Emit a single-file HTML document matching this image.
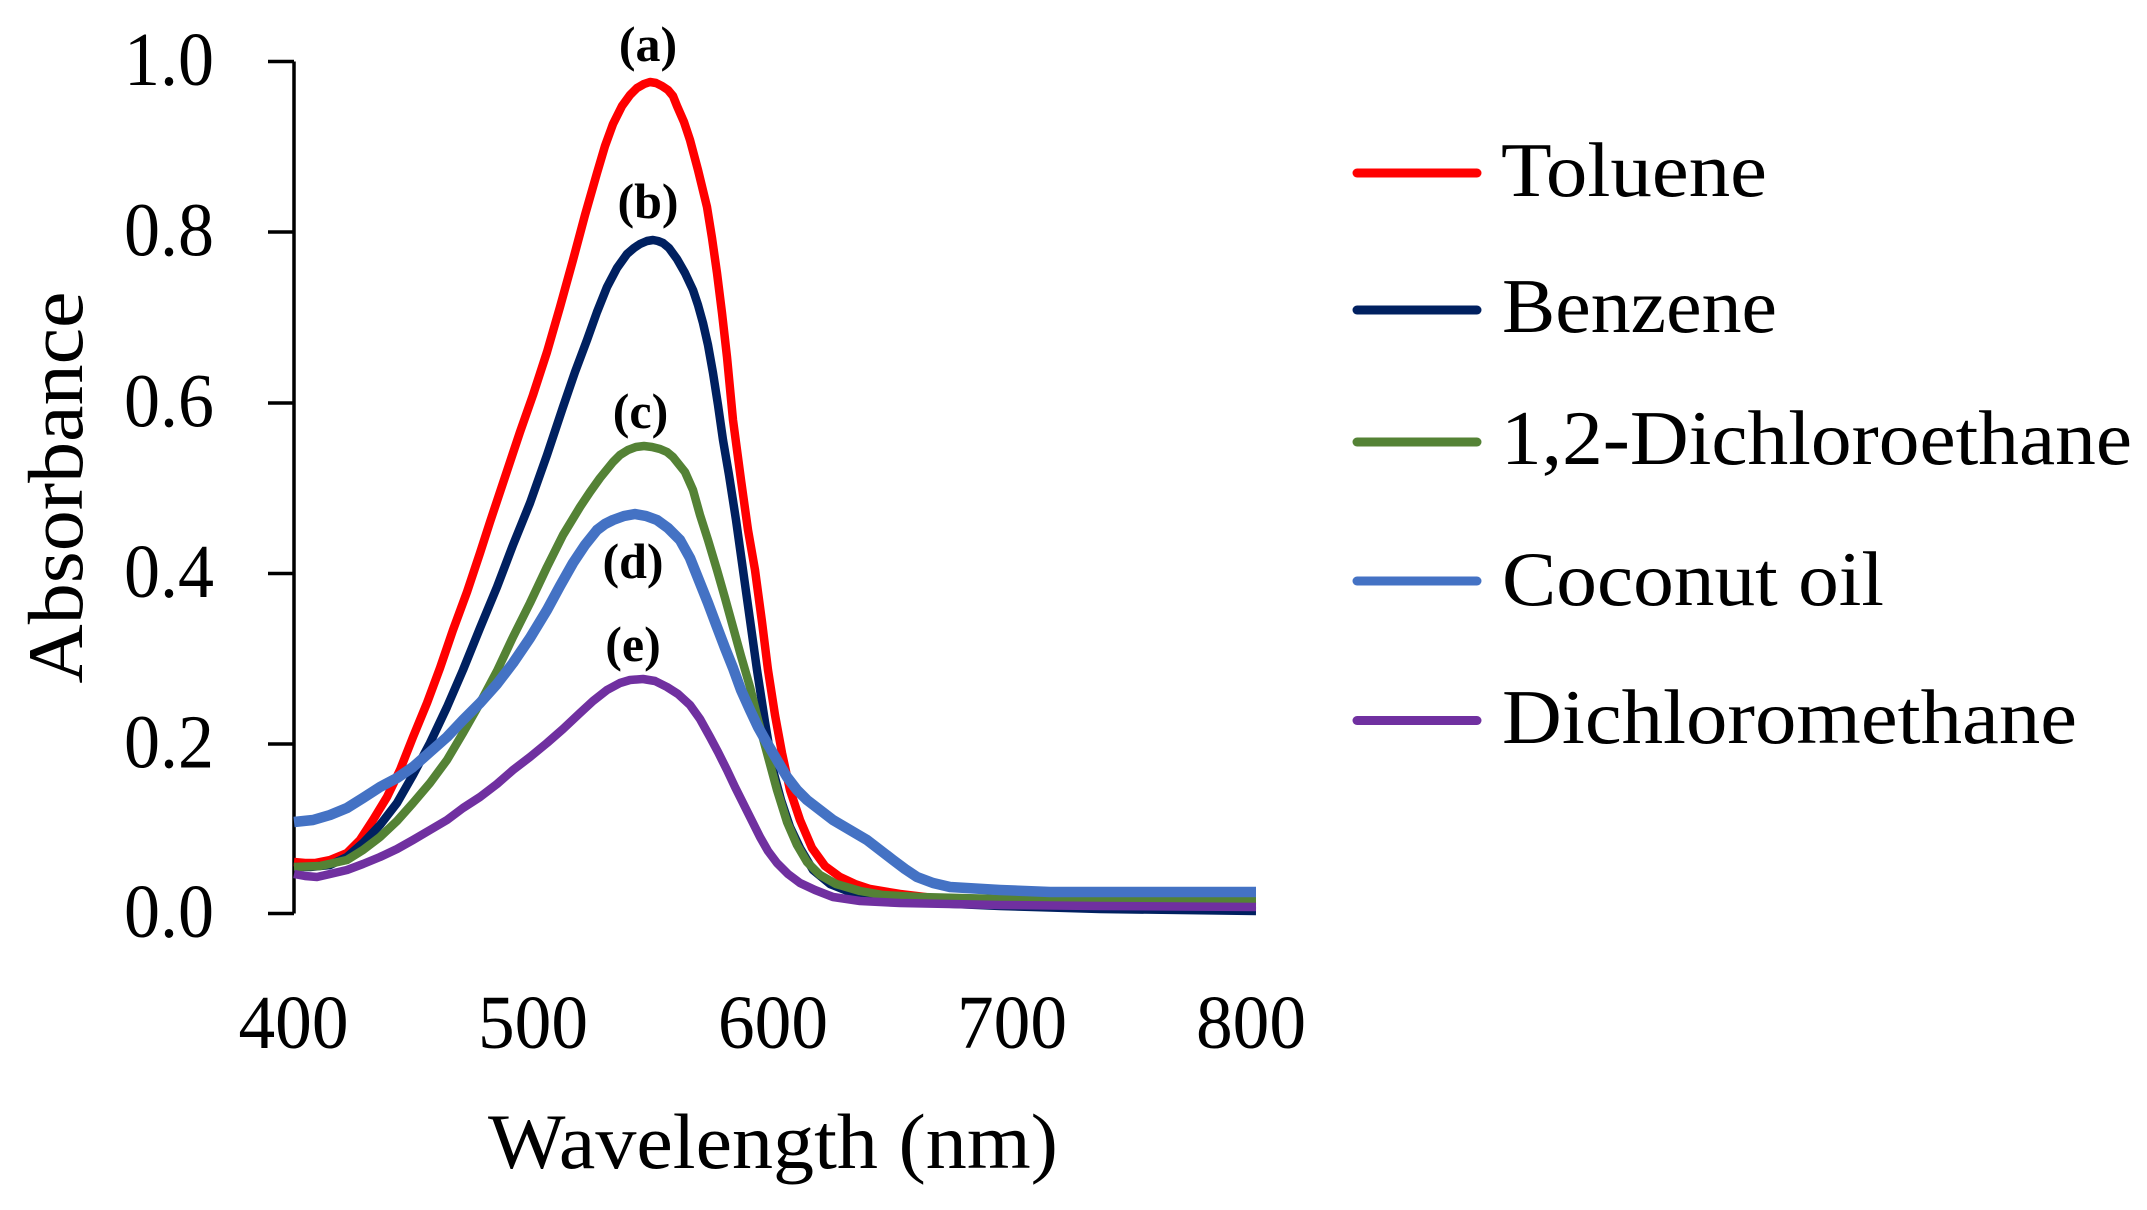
<!DOCTYPE html>
<html>
<head>
<meta charset="utf-8">
<style>
html,body{margin:0;padding:0;background:#fff;}
svg{display:block;}
text{font-family:"Liberation Serif","DejaVu Serif",serif;fill:#000;}
</style>
</head>
<body>
<svg width="2147" height="1210" viewBox="0 0 2147 1210" xmlns="http://www.w3.org/2000/svg">
<rect width="2147" height="1210" fill="#fff"/>

<!-- Y axis -->
<line x1="294" y1="61.5" x2="294" y2="913.5" stroke="#000" stroke-width="3.5"/>
<g stroke="#000" stroke-width="3.5">
<line x1="268" y1="61.5" x2="294" y2="61.5"/>
<line x1="268" y1="232" x2="294" y2="232"/>
<line x1="268" y1="403" x2="294" y2="403"/>
<line x1="268" y1="573.5" x2="294" y2="573.5"/>
<line x1="268" y1="744" x2="294" y2="744"/>
<line x1="268" y1="913.5" x2="294" y2="913.5"/>
</g>
<g font-size="76" text-anchor="end">
<text x="214" y="85" textLength="90" lengthAdjust="spacingAndGlyphs">1.0</text>
<text x="214" y="255.5" textLength="90" lengthAdjust="spacingAndGlyphs">0.8</text>
<text x="214" y="426.5" textLength="90" lengthAdjust="spacingAndGlyphs">0.6</text>
<text x="214" y="597" textLength="90" lengthAdjust="spacingAndGlyphs">0.4</text>
<text x="214" y="767.5" textLength="90" lengthAdjust="spacingAndGlyphs">0.2</text>
<text x="214" y="937" textLength="90" lengthAdjust="spacingAndGlyphs">0.0</text>
</g>

<!-- X tick labels -->
<g font-size="76" text-anchor="middle">
<text x="293.5" y="1048" textLength="110" lengthAdjust="spacingAndGlyphs">400</text>
<text x="533" y="1048" textLength="110" lengthAdjust="spacingAndGlyphs">500</text>
<text x="773" y="1048" textLength="110" lengthAdjust="spacingAndGlyphs">600</text>
<text x="1012" y="1048" textLength="110" lengthAdjust="spacingAndGlyphs">700</text>
<text x="1251" y="1048" textLength="110" lengthAdjust="spacingAndGlyphs">800</text>
</g>

<!-- Axis titles -->
<text x="488" y="1168" font-size="78" textLength="570" lengthAdjust="spacingAndGlyphs">Wavelength (nm)</text>
<text transform="translate(82,487.5) rotate(-90)" x="0" y="0" font-size="78" text-anchor="middle" textLength="392" lengthAdjust="spacingAndGlyphs">Absorbance</text>

<!-- Curves -->
<g fill="none" stroke-linejoin="round" stroke-linecap="butt">
<polyline stroke="#FF0000" stroke-width="8.5" points="294,862 305,863 315,863 330,860 347,853 360,840 373,820 387,797 400,770 413,737 427,703 440,668 453,630 467,592 480,553 490,522 500,492 510,462 520,432 533,395 547,352 560,307 573,260 585,215 597,173 605,146 613,124 622,106 630,95 637,88 644,84 650,82 656,83 662,86 668,90 673,96 677,106 684,122 690,140 698,170 707,207 712,238 717,273 722,313 727,357 733,420 741,480 748,530 755,570 762,622 768,670 775,715 782,753 790,790 800,820 812,848 825,866 840,877 855,884 870,889 900,894 933,898 1000,902 1100,905 1256,906"/>
<polyline stroke="#002060" stroke-width="8.5" points="294,867 310,867 330,865 347,857 363,843 380,825 397,803 413,775 430,743 447,707 463,670 480,628 497,587 513,545 530,503 547,455 563,407 575,372 587,340 597,312 607,287 617,268 627,254 634,248 640,244 647,241 653,240 658,241 663,243 669,248 677,259 685,273 693,290 698,305 703,323 708,345 713,373 718,405 723,440 729,475 736,520 743,570 750,620 757,670 765,722 773,770 781,800 790,827 800,848 813,870 830,884 850,892 890,899 933,903 1000,906 1100,909 1256,911"/>
<polyline stroke="#548235" stroke-width="8.5" points="294,867 320,866 347,860 363,850 380,837 397,821 413,803 430,783 447,760 463,733 480,703 497,671 513,637 530,603 547,567 563,535 580,507 590,492 600,478 613,462 620,455 628,450 636,447 644,446 652,447 660,449 667,452 673,457 685,472 693,490 700,515 708,540 717,570 725,598 733,627 741,656 750,687 758,720 767,753 777,790 787,822 797,845 807,862 820,875 836,884 860,891 883,895 920,897 1000,899 1256,899"/>
<polyline stroke="#4472C4" stroke-width="10.5" points="294,822 313,820 330,815 347,808 363,798 380,787 397,778 413,767 430,752 447,737 463,720 480,703 497,684 513,663 530,638 547,610 560,586 573,563 585,545 597,530 605,524 613,520 624,516 635,514 646,516 657,520 668,528 680,540 690,558 700,583 708,603 717,627 725,648 733,668 741,690 750,710 758,727 767,743 777,760 787,777 797,790 807,800 820,810 833,820 850,830 867,840 880,850 893,860 905,869 917,877 933,883 950,887 1000,890 1050,892 1256,892"/>
<polyline stroke="#7030A0" stroke-width="8.5" points="294,874 305,876 317,877 330,874 347,870 363,864 380,857 397,849 413,840 430,830 447,820 463,808 480,797 497,784 513,770 530,757 547,743 563,729 580,713 593,701 607,690 620,683 630,680 643,679 655,681 667,687 678,694 690,705 700,719 710,737 718,752 727,770 735,787 743,803 752,821 760,837 768,851 777,863 788,874 800,883 815,890 833,897 860,901 900,903 1000,905 1100,906 1256,907"/>
</g>

<!-- Peak labels -->
<g font-size="50" font-weight="bold" text-anchor="middle">
<text x="648" y="61">(a)</text>
<text x="648" y="218">(b)</text>
<text x="640.5" y="428">(c)</text>
<text x="633" y="578">(d)</text>
<text x="633" y="661">(e)</text>
</g>

<!-- Legend -->
<g stroke-width="9" stroke-linecap="round">
<line x1="1357" y1="173" x2="1477" y2="173" stroke="#FF0000"/>
<line x1="1357" y1="310" x2="1477" y2="310" stroke="#002060"/>
<line x1="1357" y1="442" x2="1477" y2="442" stroke="#548235"/>
<line x1="1357" y1="581" x2="1477" y2="581" stroke="#4472C4"/>
<line x1="1357" y1="720.5" x2="1477" y2="720.5" stroke="#7030A0"/>
</g>
<g font-size="77">
<text x="1501" y="196" textLength="266" lengthAdjust="spacingAndGlyphs">Toluene</text>
<text x="1502" y="332" textLength="275" lengthAdjust="spacingAndGlyphs">Benzene</text>
<text x="1501" y="464" textLength="631" lengthAdjust="spacingAndGlyphs">1,2-Dichloroethane</text>
<text x="1502" y="605" textLength="382" lengthAdjust="spacingAndGlyphs">Coconut oil</text>
<text x="1502" y="743" textLength="575" lengthAdjust="spacingAndGlyphs">Dichloromethane</text>
</g>
</svg>
</body>
</html>
